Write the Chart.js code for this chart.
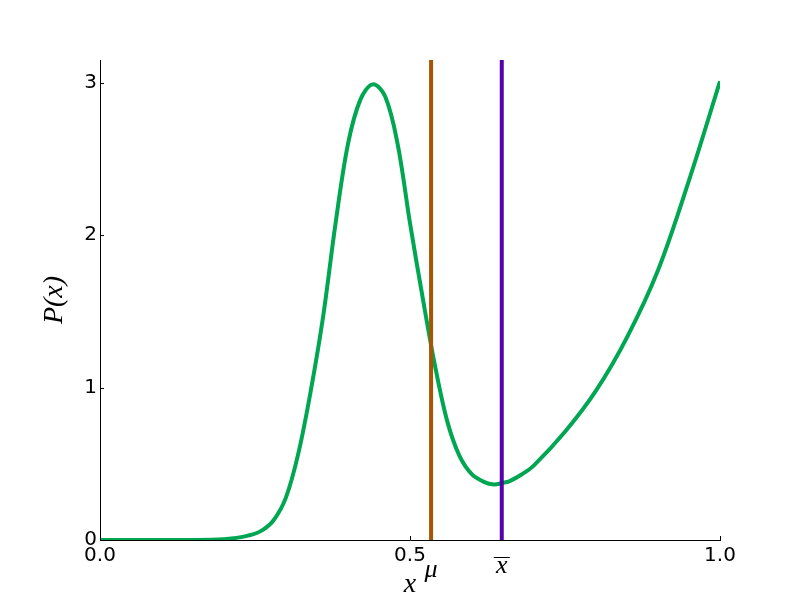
<!DOCTYPE html>
<html>
<head>
<meta charset="utf-8">
<script src="https://cdn.jsdelivr.net/npm/chart.js@4/dist/chart.umd.min.js"></script>
<style>
  html, body { margin: 0; padding: 0; background: #fff; }
  #wrap { width: 800px; height: 600px; }
</style>
</head>
<body>
<div id="wrap"><canvas id="grafico" width="800" height="600"></canvas></div>
<script>
// Valores
const xs = [0, 0.1, 0.18, 0.22, 0.24, 0.26, 0.28, 0.30, 0.32, 0.34, 0.36, 0.38, 0.40, 0.42, 0.44,
  0.46, 0.48, 0.50, 0.52, 0.54, 0.56, 0.58, 0.60, 0.62, 0.635, 0.65, 0.66, 0.68, 0.70, 0.75, 0.80,
  0.85, 0.90, 0.95, 1.0];
const ps = [0, 0, 0.002, 0.014, 0.03, 0.06, 0.13, 0.28, 0.57, 0.98, 1.47, 2.08, 2.60, 2.89, 2.99,
  2.91, 2.60, 2.08, 1.60, 1.15, 0.78, 0.55, 0.43, 0.38, 0.365, 0.375, 0.385, 0.43, 0.49, 0.71, 0.98,
  1.33, 1.77, 2.36, 3.01];
const mu = 0.534;
const xbar = 0.648;
const yMax = 3.15;
const xTicks = [0, 0.5, 1.0];
const yTicks = [0, 1, 2, 3];

const curva = xs.map((x, i) => ({ x: x, y: ps[i] }));

// Ticks hacia adentro, etiquetas matemáticas y ejes
const extras = {
  id: 'extras',
  afterDraw(chart) {
    const ctx = chart.ctx;
    const sx = chart.scales.x;
    const sy = chart.scales.y;
    const area = chart.chartArea;
    ctx.save();
    ctx.strokeStyle = '#000';
    ctx.lineWidth = 1;
    yTicks.forEach(v => {
      const py = Math.round(sy.getPixelForValue(v)) + 0.5;
      ctx.beginPath();
      ctx.moveTo(area.left, py);
      ctx.lineTo(area.left + 4, py);
      ctx.stroke();
    });
    xTicks.forEach(v => {
      const px = Math.round(sx.getPixelForValue(v)) + 0.5;
      ctx.beginPath();
      ctx.moveTo(px, area.bottom);
      ctx.lineTo(px, area.bottom - 4);
      ctx.stroke();
    });

    ctx.fillStyle = '#000';
    ctx.textAlign = 'center';
    ctx.textBaseline = 'middle';

    // mu
    ctx.font = 'italic 26px "Liberation Serif"';
    ctx.fillText('μ', sx.getPixelForValue(mu), area.bottom + 30);

    // x barra
    ctx.font = 'italic 26px "Liberation Serif"';
    const pxb = sx.getPixelForValue(xbar);
    ctx.fillText('x', pxb, area.bottom + 26);
    ctx.beginPath();
    ctx.moveTo(pxb - 8, area.bottom + 17.5);
    ctx.lineTo(pxb + 8, area.bottom + 17.5);
    ctx.stroke();

    // titulo eje x
    ctx.font = 'italic 28px "Liberation Serif"';
    ctx.fillText('x', (area.left + area.right) / 2, area.bottom + 45);

    // titulo eje y
    ctx.translate(55, (area.top + area.bottom) / 2);
    ctx.rotate(-Math.PI / 2);
    ctx.font = 'italic 28px "Liberation Serif"';
    ctx.fillText('P(x)', 0, 0);
    ctx.restore();
  }
};

new Chart(document.getElementById('grafico'), {
  type: 'scatter',
  data: {
    datasets: [
      {
        label: 'P(x)',
        data: curva,
        showLine: true,
        borderColor: '#00a651',
        borderWidth: 4,
        pointRadius: 0,
        tension: 0.35,
        order: 2
      },
      {
        label: 'mu',
        data: [{ x: mu, y: 0 }, { x: mu, y: yMax }],
        showLine: true,
        borderColor: '#a85400',
        borderWidth: 4,
        pointRadius: 0,
        order: 1
      },
      {
        label: 'xbar',
        data: [{ x: xbar, y: 0 }, { x: xbar, y: yMax }],
        showLine: true,
        borderColor: '#5500aa',
        borderWidth: 4,
        pointRadius: 0,
        order: 1
      }
    ]
  },
  options: {
    responsive: false,
    animation: false,
    layout: {
      padding: { top: 60, right: 80, left: 0, bottom: 0 }
    },
    plugins: {
      legend: { display: false },
      tooltip: { enabled: false }
    },
    scales: {
      x: {
        type: 'linear',
        min: 0,
        max: 1,
        afterFit: s => { s.height = 60; },
        afterBuildTicks: s => { s.ticks = xTicks.map(v => ({ value: v })); },
        grid: { display: false, drawTicks: false },
        border: { display: true, color: '#000', width: 1 },
        ticks: {
          padding: 4,
          color: '#000',
          maxRotation: 0,
          font: { family: 'DejaVu Sans', size: 20 },
          callback: v => v.toFixed(1)
        }
      },
      y: {
        min: 0,
        max: yMax,
        afterFit: s => { s.width = 100; },
        afterBuildTicks: s => { s.ticks = yTicks.map(v => ({ value: v })); },
        grid: { display: false, drawTicks: false },
        border: { display: true, color: '#000', width: 1 },
        ticks: {
          padding: 3,
          color: '#000',
          font: { family: 'DejaVu Sans', size: 20 },
          callback: v => String(v)
        }
      }
    }
  },
  plugins: [extras]
});
</script>
</body>
</html>
